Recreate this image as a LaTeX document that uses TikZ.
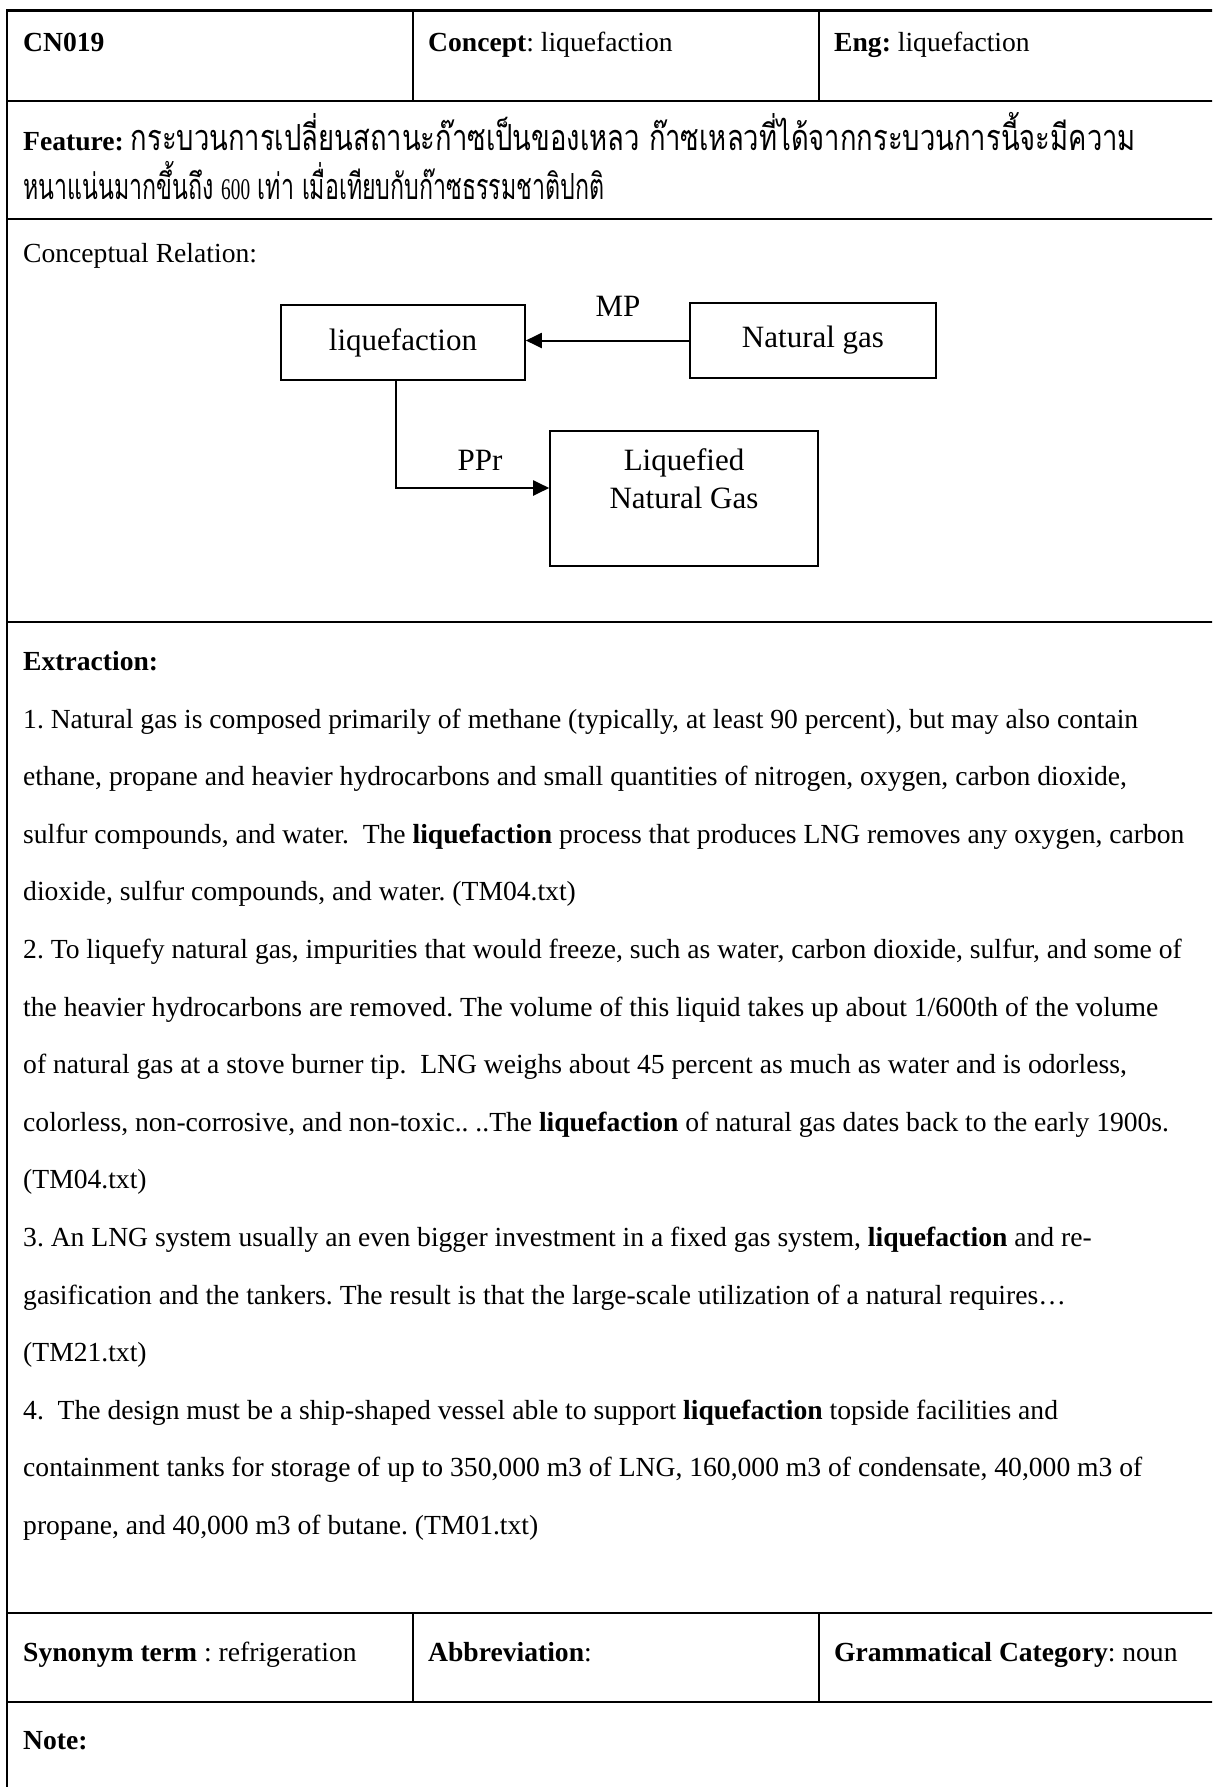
\documentclass[tikz,border=0pt]{standalone}
\usepackage{fontspec}
\usepackage{graphicx}
\setmainfont{Liberation Serif}
\newfontfamily\thaifont[Script=Thai]{Loma}
\usetikzlibrary{arrows.meta}
\frenchspacing

\newsavebox\featA
\newsavebox\featB

\begin{document}
\sbox\featA{\fontsize{36}{42}\thaifont กระบวนการเปลี่ยนสถานะก๊าซเป็นของเหลว ก๊าซเหลวที่ได้จากกระบวนการนี้จะมีความ}%
\sbox\featB{\fontsize{36}{42}\thaifont หนาแน่นมากขึ้นถึง {\fontsize{30}{36}\rmfamily 600} เท่า เมื่อเทียบกับก๊าซธรรมชาติปกติ}%
\begin{tikzpicture}[x=1pt,y=-1pt,
  rule/.style={line width=2.6pt},
  colrule/.style={line width=1.5pt},
  txt/.style={anchor=base west, inner sep=0pt, font=\fontsize{27.6}{33}\selectfont},
  box/.style={draw, line width=1.6pt, inner sep=0pt, font=\fontsize{31}{38}\selectfont, align=center},
  lbl/.style={inner sep=0pt, font=\fontsize{31}{38}\selectfont, align=center},
  link/.style={line width=2pt, -{Triangle[length=16pt,width=15pt]}}
]
\useasboundingbox (0,0) rectangle (1212,1787);
\clip (0,0) rectangle (1212,1787);
\fill[white] (0,0) rectangle (1212,1787);
\pgfmathsetmacro\featsxA{1005/\wd\featA}
\pgfmathsetmacro\featsxB{581/\wd\featB}

% table rules
\draw[rule] (7,1800) -- (7,10.4) -- (1220,10.4);
\foreach \yy in {101,219,622,1613,1702}
  \draw[rule] (7,\yy) -- (1220,\yy);
\draw[colrule] (413,11.7) -- (413,101);
\draw[colrule] (819,11.7) -- (819,101);
\draw[colrule] (413,1613) -- (413,1702);
\draw[colrule] (819,1613) -- (819,1702);

% header row
\node[txt] (id) at (23,52) {\textbf{CN019}};
\node[txt] (concept) at (428,52) {\textbf{Concept}: liquefaction};
\node[txt] (eng) at (834,52) {\textbf{Eng:} liquefaction};

% feature row
\node[txt] (feat1) at (23,151) {\textbf{Feature:} \scalebox{\featsxA}[1]{\usebox\featA}};
\node[txt] (feat2) at (23,200) {\scalebox{\featsxB}[1]{\usebox\featB}};

% conceptual relation
\node[txt] (rel) at (23,262) {Conceptual Relation:};
\node[box, minimum width=244pt, minimum height=75pt] (liq) at (403,342.5) {liquefaction};
\node[box, minimum width=246pt, minimum height=75pt] (ng) at (813,340.5) {Natural gas};
\node[box, minimum width=268pt, minimum height=135pt] (lng) at (684,498.5) {};
\node[lbl] (lngtxt) at (684,479) {Liquefied\\Natural Gas};
\node[lbl] (mp) at (618,306) {MP};
\node[lbl] (ppr) at (480,460) {PPr};
\draw[link] (ng.west) -- (ng.west -| liq.east);
\coordinate (bend) at (396,488);
\draw[link] (liq.south -| bend) -- (bend) -- (bend -| lng.west);

% extraction
\node[txt] (ext) at (23,670) {\textbf{Extraction:}};
\foreach \t [count=\k] in {
  {1. Natural gas is composed primarily of methane (typically, at least 90 percent), but may also contain},
  {ethane, propane and heavier hydrocarbons and small quantities of nitrogen, oxygen, carbon dioxide,},
  {sulfur compounds, and water.\ \ The \textbf{liquefaction} process that produces LNG removes any oxygen, carbon},
  {dioxide, sulfur compounds, and water. (TM04.txt)},
  {2. To liquefy natural gas, impurities that would freeze, such as water, carbon dioxide, sulfur, and some of},
  {the heavier hydrocarbons are removed. The volume of this liquid takes up about 1/600th of the volume},
  {of natural gas at a stove burner tip.\ \ LNG weighs about 45 percent as much as water and is odorless,},
  {colorless, non-corrosive, and non-toxic.. ..The \textbf{liquefaction} of natural gas dates back to the early 1900s.},
  {(TM04.txt)},
  {3. An LNG system usually an even bigger investment in a fixed gas system, \textbf{liquefaction} and re-},
  {gasification and the tankers. The result is that the large-scale utilization of a natural requires…},
  {(TM21.txt)},
  {4.\ \ The design must be a ship-shaped vessel able to support \textbf{liquefaction} topside facilities and},
  {containment tanks for storage of up to 350,000 m3 of LNG, 160,000 m3 of condensate, 40,000 m3 of},
  {propane, and 40,000 m3 of butane. (TM01.txt)}}
  \node[txt] (ex\k) at (23,{728+(\k-1)*57.6}) {\t};

% synonym row
\node[txt] (syn) at (23,1661) {\textbf{Synonym term} : refrigeration};
\node[txt] (abbr) at (428,1661) {\textbf{Abbreviation}:};
\node[txt] (cat) at (834,1661) {\textbf{Grammatical Category}: noun};

% note row
\node[txt] (note) at (23,1749) {\textbf{Note:}};
\end{tikzpicture}
\end{document}
